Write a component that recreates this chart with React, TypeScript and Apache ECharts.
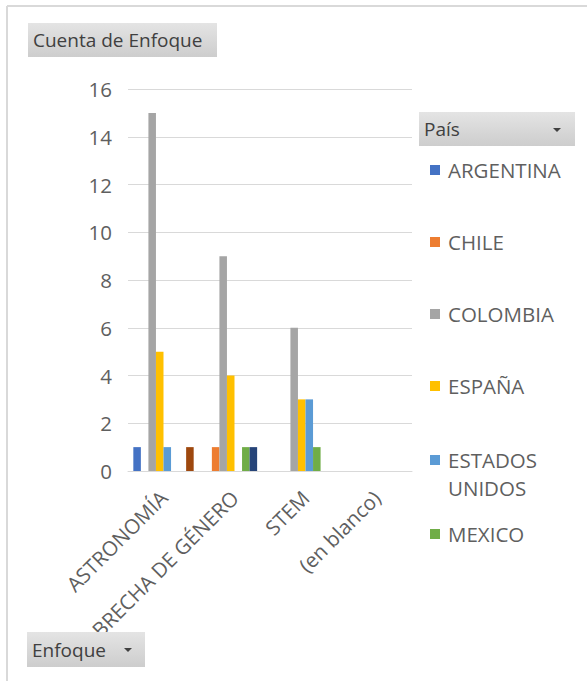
import React, { useEffect, useRef } from "react";
import * as echarts from "echarts";

const categories = ["ASTRONOMÍA", "BRECHA DE GÉNERO", "STEM", "(en blanco)"];
const countries = ["ARGENTINA", "CHILE", "COLOMBIA", "ESPAÑA", "ESTADOS UNIDOS", "MEXICO", "PERÚ", "VENEZUELA"];
const colors = ["#4472C4", "#ED7D31", "#A5A5A5", "#FFC000", "#5B9BD5", "#70AD47", "#264478", "#9E480E"];
const argentina = [1, null, null, null];
const chile = [null, 1, null, null];
const colombia = [15, 9, 6, null];
const espana = [5, 4, 3, null];
const estadosUnidos = [1, null, 3, null];
const mexico = [null, 1, 1, null];
const peru = [null, 1, null, null];
const venezuela = [1, null, null, null];
const seriesValues = [argentina, chile, colombia, espana, estadosUnidos, mexico, peru, venezuela];
const yTicks = { min: 0, max: 16, interval: 2 };

const FONT = "Open Sans";
const TXT = "#5f5f5f";

function btnFill() {
  return new echarts.graphic.LinearGradient(0, 0, 0, 1, [
    { offset: 0, color: "#e4e4e4" },
    { offset: 1, color: "#cdcdcd" },
  ]);
}

export default function App() {
  const ref = useRef<HTMLDivElement>(null);
  useEffect(() => {
    if (!ref.current) return;
    const chart = echarts.init(ref.current, null, { renderer: "svg" });
    const legendText = { color: TXT, fontSize: 20.5, fontFamily: FONT, lineHeight: 28 };
    const legendBase = {
      orient: "vertical",
      left: 430,
      padding: 0,
      itemWidth: 10,
      itemHeight: 10,
      icon: "rect",
      selectedMode: false,
    };
    chart.setOption({
      animation: false,
      backgroundColor: "#ffffff",
      textStyle: { fontFamily: FONT },
      grid: { left: 128, right: 175, top: 89, bottom: 210 },
      legend: [
        {
          ...legendBase,
          data: countries.slice(0, 4),
          top: 156,
          itemGap: 44,
          textStyle: { ...legendText, padding: [0, 0, 0, 3] },
        },
        {
          ...legendBase,
          data: [countries[4]],
          formatter: () => "\nESTADOS\nUNIDOS",
          top: 418,
          textStyle: { ...legendText, padding: [0, 0, 0, 3] },
        },
        {
          ...legendBase,
          data: [countries[5]],
          top: 520,
          textStyle: { ...legendText, padding: [0, 0, 0, 3] },
        },
      ],
      xAxis: {
        type: "category",
        data: categories,
        axisLine: { show: true, lineStyle: { color: "#d9d9d9", width: 1 } },
        axisTick: { show: false },
        axisLabel: { interval: 0, rotate: 45, color: TXT, fontSize: 20.5, fontFamily: FONT, margin: 23 },
      },
      yAxis: {
        type: "value",
        min: yTicks.min,
        max: yTicks.max,
        interval: yTicks.interval,
        axisLine: { show: false },
        axisTick: { show: false },
        splitLine: { lineStyle: { color: "#d9d9d9", width: 1 } },
        axisLabel: { color: TXT, fontSize: 20.5, fontFamily: FONT, margin: 16 },
      },
      series: countries.map((name, i) => ({
        name,
        type: "bar",
        data: seriesValues[i],
        itemStyle: { color: colors[i] },
        barGap: "0%",
        barCategoryGap: "15%",
      })),
      graphic: [
        { type: "line", z: 50, shape: { x1: 7, y1: 6, x2: 587, y2: 6 }, style: { stroke: "#d9d9d9", lineWidth: 2 } },
        { type: "line", z: 50, shape: { x1: 7, y1: 6, x2: 7, y2: 681 }, style: { stroke: "#d9d9d9", lineWidth: 2 } },
        { type: "rect", z: 50, shape: { x: 28, y: 23, width: 189, height: 34 }, style: { fill: btnFill() } },
        { type: "text", z: 51, x: 33, y: 40, style: { text: "Cuenta de Enfoque", fill: "#404040", fontSize: 19, fontFamily: FONT, verticalAlign: "middle" } },
        { type: "rect", z: 50, shape: { x: 419, y: 112, width: 156, height: 34 }, style: { fill: btnFill() } },
        { type: "text", z: 51, x: 424, y: 129, style: { text: "País", fill: "#404040", fontSize: 19, fontFamily: FONT, verticalAlign: "middle" } },
        { type: "polygon", z: 51, shape: { points: [[553, 128], [561, 128], [557, 132]] }, style: { fill: "#404040" } },
        { type: "rect", z: 50, shape: { x: 27, y: 632, width: 118, height: 35 }, style: { fill: btnFill() } },
        { type: "text", z: 51, x: 32, y: 650, style: { text: "Enfoque", fill: "#404040", fontSize: 19, fontFamily: FONT, verticalAlign: "middle" } },
        { type: "polygon", z: 51, shape: { points: [[124, 648], [132, 648], [128, 652]] }, style: { fill: "#404040" } },
      ],
    });
    return () => chart.dispose();
  }, []);
  return <div ref={ref} style={{ position: "fixed", left: 0, top: 0, width: 587, height: 681 }} />;
}
